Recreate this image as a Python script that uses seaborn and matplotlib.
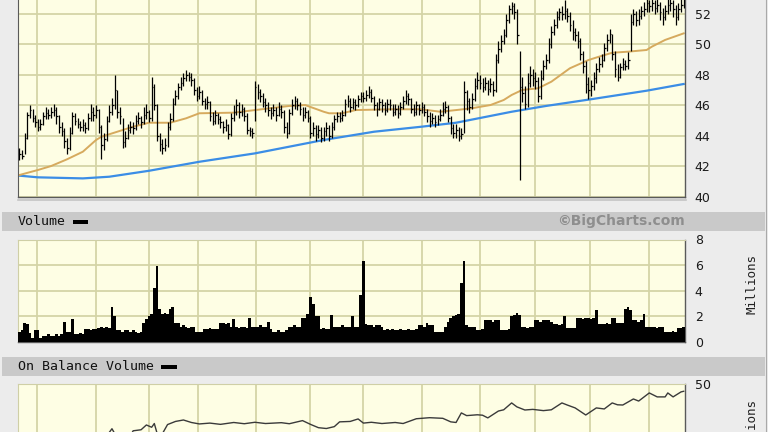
import numpy as np
import matplotlib
matplotlib.use("Agg")
import matplotlib.pyplot as plt
import seaborn as sns
from matplotlib.patches import Rectangle
from matplotlib.lines import Line2D

# ---------------- data ----------------
close = [
    42.8, 42.7, 43.9, 45.4, 45.7, 45.2, 44.9, 44.6, 44.8, 45.3,
    45.5, 45.4, 45.6, 45.7, 45.3, 44.6, 44.3, 43.7, 43.2, 44.2,
    45.3, 45.0, 44.8, 44.6, 44.7, 44.5, 45.2, 45.6, 45.4, 45.7,
    44.6, 43.4, 43.8, 45.0, 45.6, 46.0, 47.0, 45.6, 45.3, 43.6,
    43.9, 44.4, 44.6, 44.5, 45.0, 45.2, 44.9, 45.4, 45.6, 45.2,
    47.2, 46.0, 44.0, 43.5, 43.2, 43.4, 44.6, 45.1, 46.1, 46.6,
    47.2, 47.5, 47.8, 48.0, 47.9, 47.7, 47.0, 46.6, 46.9, 46.3,
    46.1, 46.2, 45.3, 45.0, 45.4, 45.1, 44.9, 44.6, 44.7, 44.1,
    45.2, 45.6, 46.0, 45.6, 45.8, 45.3, 44.4, 44.3, 44.2, 47.2,
    46.9, 46.6, 46.2, 46.0, 45.7, 45.5, 45.7, 45.4, 45.8, 45.6,
    44.6, 44.2, 45.5, 46.0, 46.3, 46.0, 45.8, 45.4, 45.6, 45.2,
    44.2, 44.5, 44.1, 44.4, 43.9, 44.3, 44.5, 44.0, 44.6, 45.1,
    45.3, 45.2, 45.4, 46.1, 46.3, 45.9, 46.2, 46.0, 46.4, 46.6,
    46.5, 46.7, 46.9, 46.5, 46.0, 45.8, 46.2, 46.0, 45.7, 46.1,
    46.0, 45.6, 45.8, 45.5, 45.9, 46.3, 46.6, 46.4, 45.8, 45.6,
    46.0, 45.7, 45.9, 45.6, 45.3, 45.0, 45.2, 44.9, 45.1, 45.4,
    45.8, 45.9, 45.2, 44.5, 44.2, 44.4, 44.0, 44.1, 46.9, 46.3,
    45.9, 46.4, 47.3, 47.7, 47.5, 47.2, 47.5, 47.1, 47.4, 47.0,
    49.0, 49.7, 50.2, 50.6, 51.6, 52.3, 52.5, 52.1, 50.6, 47.2,
    46.8, 46.1, 47.5, 48.0, 47.8, 47.6, 46.6, 47.8, 48.6, 49.0,
    50.0, 50.8, 51.3, 51.8, 52.1, 52.0, 52.2, 51.9, 51.3, 50.8,
    50.6, 50.2, 49.4, 48.6, 47.4, 47.0, 47.3, 47.8, 48.4, 48.7,
    49.0, 49.8, 50.3, 50.7, 49.4, 48.4, 47.9, 48.5, 48.7, 48.6,
    49.0, 51.5, 52.0, 51.6, 51.9, 52.2, 52.3, 52.7, 52.5, 52.7,
    52.4, 52.6, 52.1, 51.8, 52.2, 52.6, 52.7, 52.3, 51.8, 52.3, 52.6, 52.9,
]
high = [
    43.2, 43.1, 44.2, 45.6, 46.0, 45.8, 45.4, 45.1, 45.1, 45.6,
    45.9, 45.8, 45.9, 46.1, 45.9, 45.4, 44.9, 44.5, 43.9, 44.6,
    45.6, 45.5, 45.2, 45.0, 45.1, 44.9, 45.5, 46.1, 45.9, 46.0,
    45.8, 44.7, 44.2, 45.3, 46.0, 46.5, 48.0, 47.0, 45.9, 45.2,
    44.3, 44.8, 45.0, 44.9, 45.4, 45.6, 45.3, 45.9, 46.1, 45.7,
    47.9, 47.4, 46.1, 44.2, 43.8, 43.9, 44.9, 45.5, 46.5, 47.0,
    47.5, 47.9, 48.1, 48.3, 48.2, 48.1, 47.8, 47.2, 47.3, 47.0,
    46.5, 46.6, 46.3, 45.6, 45.7, 45.5, 45.3, 45.0, 45.1, 44.8,
    45.5, 46.0, 46.4, 46.2, 46.1, 45.9, 45.5, 44.6, 44.5, 47.6,
    47.4, 47.1, 46.8, 46.5, 46.2, 45.9, 46.1, 45.9, 46.2, 46.0,
    45.7, 44.9, 45.8, 46.4, 46.6, 46.5, 46.2, 45.9, 45.9, 45.7,
    45.3, 44.9, 44.7, 44.7, 44.6, 44.6, 44.9, 44.7, 44.9, 45.4,
    45.6, 45.6, 45.7, 46.4, 46.7, 46.5, 46.5, 46.4, 46.7, 46.9,
    46.9, 47.0, 47.3, 47.1, 46.6, 46.2, 46.5, 46.4, 46.2, 46.4,
    46.4, 46.1, 46.1, 46.0, 46.2, 46.6, 47.0, 46.8, 46.5, 46.1,
    46.3, 46.1, 46.2, 46.1, 45.8, 45.6, 45.5, 45.4, 45.4, 45.8,
    46.2, 46.3, 46.0, 45.3, 44.8, 44.8, 44.6, 44.5, 47.6, 47.0,
    46.5, 46.8, 47.8, 48.2, 48.0, 47.8, 47.9, 47.7, 47.8, 47.6,
    49.4, 50.2, 50.6, 51.0, 52.0, 52.6, 52.8, 52.7, 52.3, 49.6,
    47.9, 47.3, 48.1, 48.6, 48.4, 48.2, 47.9, 48.3, 49.0, 49.4,
    50.4, 51.2, 51.7, 52.2, 52.4, 52.5, 52.9, 52.4, 52.1, 51.6,
    51.1, 50.9, 50.4, 49.6, 48.9, 47.9, 47.7, 48.2, 48.8, 49.2,
    49.4, 50.1, 50.7, 51.0, 50.7, 49.6, 48.7, 48.8, 49.1, 49.0,
    49.5, 52.0, 52.3, 52.2, 52.3, 52.5, 52.8, 53.0, 52.9, 53.0,
    52.9, 53.0, 52.8, 52.4, 52.6, 53.0, 53.1, 52.9, 52.6, 52.7, 53.0, 53.2,
]
low = [
    42.4, 42.5, 42.8, 43.8, 45.2, 44.9, 44.6, 44.3, 44.4, 44.7,
    45.1, 45.1, 45.2, 45.3, 44.8, 44.2, 44.0, 43.2, 42.8, 43.1,
    44.1, 44.7, 44.5, 44.3, 44.3, 44.2, 44.4, 45.0, 45.0, 45.2,
    44.2, 42.5, 43.1, 43.7, 44.9, 45.4, 45.8, 45.2, 44.8, 43.2,
    43.3, 43.8, 44.2, 44.1, 44.4, 44.8, 44.5, 44.8, 45.1, 44.9,
    45.0, 45.7, 43.7, 43.0, 42.8, 43.0, 43.3, 44.4, 45.0, 46.0,
    46.4, 47.0, 47.3, 47.6, 47.6, 47.3, 46.7, 46.3, 46.4, 46.0,
    45.8, 45.8, 45.0, 44.7, 44.8, 44.8, 44.5, 44.2, 44.3, 43.8,
    44.0, 45.0, 45.4, 45.2, 45.3, 45.0, 44.1, 44.0, 43.9, 45.0,
    46.4, 46.2, 45.9, 45.6, 45.3, 45.1, 45.3, 45.0, 45.3, 45.2,
    44.2, 43.9, 44.1, 45.4, 45.8, 45.7, 45.4, 45.0, 45.2, 44.9,
    43.9, 44.0, 43.7, 43.9, 43.6, 43.7, 44.0, 43.7, 43.9, 44.4,
    44.9, 44.9, 45.0, 45.3, 45.9, 45.6, 45.8, 45.7, 45.9, 46.2,
    46.2, 46.3, 46.5, 46.2, 45.7, 45.3, 45.7, 45.6, 45.4, 45.6,
    45.7, 45.3, 45.4, 45.2, 45.4, 45.8, 46.1, 46.0, 45.5, 45.3,
    45.4, 45.4, 45.5, 45.3, 44.9, 44.6, 44.8, 44.6, 44.7, 45.0,
    45.3, 45.5, 44.9, 44.1, 43.9, 43.9, 43.7, 43.8, 44.2, 45.7,
    45.5, 45.8, 46.3, 47.1, 47.1, 46.9, 47.0, 46.7, 46.9, 46.6,
    46.9, 48.8, 49.5, 50.0, 50.5, 51.4, 52.0, 51.7, 50.0, 41.1,
    46.2, 45.8, 45.9, 47.2, 47.3, 47.1, 46.2, 46.4, 47.7, 48.4,
    48.8, 49.8, 50.6, 51.1, 51.6, 51.6, 51.7, 51.5, 50.9, 50.3,
    50.2, 49.8, 49.0, 48.1, 46.8, 46.4, 46.6, 47.0, 47.5, 48.2,
    48.5, 48.9, 49.6, 50.1, 49.0, 47.9, 47.6, 47.8, 48.3, 48.3,
    48.4, 49.6, 51.3, 51.2, 51.3, 51.7, 51.9, 52.1, 52.1, 52.2,
    52.0, 52.1, 51.6, 51.3, 51.6, 52.0, 52.2, 51.8, 51.3, 51.6, 52.1, 52.4,
]
volume = [  # millions of shares
    0.8, 0.9, 1.5, 1.4, 0.7, 0.3, 0.9, 0.9, 0.3, 0.5,
    0.5, 0.6, 0.5, 0.5, 0.6, 0.5, 0.6, 1.6, 0.8, 0.8,
    1.8, 0.6, 0.6, 0.7, 0.6, 1.0, 1.0, 0.9, 1.0, 1.0,
    1.1, 1.2, 1.1, 1.2, 1.1, 2.75, 2.0, 0.9, 0.9, 0.8,
    0.9, 0.9, 0.8, 0.9, 0.8, 0.7, 0.8, 1.5, 1.8, 2.0,
    2.2, 4.2, 5.9, 2.6, 2.2, 2.3, 2.2, 2.6, 2.7, 1.5,
    1.5, 1.2, 1.3, 1.2, 1.1, 1.2, 1.2, 0.8, 0.8, 0.8,
    1.0, 1.0, 1.1, 1.0, 1.0, 1.0, 1.5, 1.5, 1.4, 1.5,
    1.2, 1.8, 1.15, 1.1, 1.2, 1.15, 1.1, 1.9, 1.2, 1.2,
    1.2, 1.3, 1.2, 1.2, 1.6, 1.0, 0.8, 0.8, 0.9, 0.8,
    0.8, 0.9, 1.2, 1.2, 1.3, 1.2, 1.2, 1.9, 1.9, 2.2,
    3.5, 3.0, 2.0, 2.0, 1.05, 1.1, 1.0, 1.05, 2.1, 1.2,
    1.2, 1.2, 1.3, 1.2, 1.2, 1.2, 2.0, 1.2, 1.2, 3.7,
    6.3, 1.4, 1.3, 1.3, 1.2, 1.3, 1.3, 1.2, 0.95, 1.0,
    0.9, 1.0, 0.95, 0.9, 1.0, 0.95, 0.9, 1.0, 0.95, 0.9,
    1.0, 1.3, 1.3, 1.2, 1.5, 1.3, 1.3, 0.8, 0.8, 0.8,
    0.8, 1.2, 1.6, 1.9, 2.0, 2.1, 2.2, 4.6, 6.3, 1.3,
    1.2, 1.2, 1.2, 0.95, 0.95, 1.0, 1.7, 1.7, 1.7, 1.6,
    1.7, 1.7, 0.95, 0.9, 0.95, 1.0, 2.0, 2.1, 2.3, 2.1,
    1.2, 1.2, 1.1, 1.2, 1.2, 1.7, 1.7, 1.6, 1.7, 1.7,
    1.7, 1.6, 1.4, 1.4, 1.3, 1.4, 2.0, 1.1, 1.1, 1.1,
    1.1, 1.9, 1.9, 1.8, 1.9, 1.9, 1.8, 1.9, 2.5, 1.4,
    1.4, 1.4, 1.5, 1.4, 1.9, 1.9, 1.5, 1.5, 1.5, 2.6,
    2.75, 2.5, 1.7, 1.7, 1.6, 1.7, 2.2, 1.2, 1.2, 1.2,
    1.2, 1.1, 1.2, 1.2, 0.8, 0.8, 0.8, 0.85, 0.8, 1.1, 1.1, 1.2,
]
ma50_idx = [0, 7, 12, 18, 24, 29, 31, 37, 43, 49, 57, 63, 68, 81, 89, 102, 108, 115, 117, 122,
            127, 140, 152, 159, 165, 171, 178, 183, 186, 190, 196, 201, 208, 215, 219, 224, 230,
            237, 239, 244, 251]
ma50_val = [41.44, 41.77, 42.03, 42.47, 42.97, 43.74, 43.95, 44.28, 44.61, 44.87, 44.87, 45.16,
            45.49, 45.53, 45.70, 45.97, 46.03, 45.59, 45.49, 45.49, 45.70, 45.75, 45.75, 45.59,
            45.70, 45.82, 46.03, 46.36, 46.69, 47.02, 47.13, 47.56, 48.44, 48.98, 49.20, 49.46,
            49.53, 49.64, 49.86, 50.30, 50.73]
ma200_idx = [0, 7, 24, 34, 49, 68, 89, 115, 134, 152, 165, 186, 199, 216, 237, 251]
ma200_val = [41.40, 41.29, 41.22, 41.33, 41.72, 42.31, 42.86, 43.74, 44.28, 44.61, 44.87,
             45.59, 45.97, 46.41, 46.97, 47.41]
obv_idx = [0, 15, 30, 33, 35, 37, 41, 43, 46, 48, 50, 51, 52, 54, 56, 59, 62, 65, 68, 72,
           76, 81, 85, 89, 93, 99, 102, 107, 110, 113, 116, 119, 121, 125, 128, 130, 133, 137,
           142, 145, 150, 155, 160, 163, 165, 167, 169, 173, 175, 177, 181, 183, 186, 188, 191,
           194, 198, 201, 205, 207, 210, 214, 218, 221, 224, 226, 228, 232, 234, 238, 241, 244,
           245, 247, 250, 251]
obv_val = [12, 16, 22, 25, 28.5, 24, 23, 27.5, 28.0, 30.3, 29.2, 31.0, 26.5, 26.0, 30.5, 32.0,
           32.7, 31.5, 30.8, 31.2, 30.6, 31.5, 30.9, 31.6, 31.0, 31.4, 30.9, 32.4, 30.6, 29.0,
           28.6, 29.5, 31.8, 32.0, 33.2, 31.2, 31.6, 31.0, 31.5, 31.0, 33.3, 33.8, 33.5, 31.8,
           31.5, 36.1, 34.8, 35.2, 35.0, 33.7, 37.0, 37.6, 40.9, 39.0, 37.5, 37.8, 37.2, 37.6,
           40.9, 39.9, 38.5, 35.1, 38.5, 38.0, 40.9, 40.0, 39.9, 42.8, 41.8, 45.7, 43.8, 43.8,
           45.7, 43.8, 46.2, 46.5]
month_idx = [6.5, 29, 49, 67.5, 89.5, 110, 130, 152, 174, 195, 215.5, 238]
price_ticks = [40, 42, 44, 46, 48, 50, 52]
volume_ticks = [0, 2, 4, 6, 8]
obv_ticks = [50]

# ---------------- layout ----------------
W, H = 768, 432
BG = "#ececec"
fig = plt.figure(figsize=(W / 100, H / 100), dpi=100, facecolor=BG)


def rect(x0, x1, ytop, ybot):
    return [x0 / W, 1 - ybot / H, (x1 - x0) / W, (ybot - ytop) / H]


n = len(close)
x = np.arange(n)


def style(ax, ylim, ticks):
    ax.set_facecolor("#fefee4")
    ax.set_xlim(-0.5, n - 0.5)
    ax.set_ylim(*ylim)
    ax.set_xticks(month_idx)
    ax.set_yticks(ticks)
    ax.set_yticklabels([str(t) for t in ticks])
    ax.yaxis.tick_right()
    ax.tick_params(axis="both", length=0, labelsize=9, pad=7, labelcolor="#1a1a1a")
    ax.tick_params(axis="x", labelbottom=False)
    ax.grid(True, color="#d4d4a6", lw=1.3)
    ax.set_axisbelow(True)
    ax.set_xlabel("")
    ax.set_ylabel("")
    for s in ["left", "top"]:
        ax.spines[s].set_color("#cfcfa6")
    for s in ["right", "bottom"]:
        ax.spines[s].set_color("#5a5a5a")
        ax.spines[s].set_linewidth(1.0)


# price panel (top extends above the image); a gridline at 54 sits above the visible part
ax1 = fig.add_axes(rect(18, 685, 197 - 14 * 15.25, 197))
sns.lineplot(x=ma200_idx, y=ma200_val, ax=ax1, color="#3b8de6", lw=1.6, zorder=2)
sns.lineplot(x=ma50_idx, y=ma50_val, ax=ax1, color="#d6aa5e", lw=1.4, zorder=2)
ax1.vlines(x, low, high, color="black", lw=0.9, zorder=3)
ax1.hlines(close, x, x + 0.6, color="black", lw=0.9, zorder=3)
style(ax1, (40, 54), price_ticks)
ax1.spines["left"].set_color("#5a5a5a")

# volume panel
ax2 = fig.add_axes(rect(18, 685, 239.5, 342))
ax2.bar(x, volume, width=1.05, color="black", linewidth=0, zorder=3)
style(ax2, (0, 8), volume_ticks)

# on balance volume panel (bottom extends below the image)
ax3 = fig.add_axes(rect(18, 685, 384, 488))
sns.lineplot(x=obv_idx, y=obv_val, ax=ax3, color="#3a3a3a", lw=1.0, zorder=3)
style(ax3, (0, 50), obv_ticks)

# ---------------- decorations ----------------
def fy(py):
    return 1 - py / H


for ytop, ybot in [(212, 231), (357, 376)]:
    fig.add_artist(Rectangle((2 / W, fy(ybot)), 763 / W, (ybot - ytop) / H,
                             transform=fig.transFigure, color="#c9c9c9", lw=0, zorder=0))
fig.add_artist(Line2D([765.5 / W, 765.5 / W], [0, 1], transform=fig.transFigure,
                      color="#a9a9a9", lw=0.8))
fig.add_artist(Line2D([18 / W, 686 / W], [fy(199.5), fy(199.5)], transform=fig.transFigure,
                      color="#c4c4c4", lw=1.2))

mono = "DejaVu Sans Mono"
fig.text(18 / W, fy(221.5), "Volume", family=mono, size=9.5, va="center", ha="left",
         color="#111111")
fig.add_artist(Rectangle((73 / W, fy(223.5)), 15 / W, 4 / H, transform=fig.transFigure,
                         color="black", lw=0))
fig.text(685 / W, fy(221.5), "\u00a9BigCharts.com", weight="bold", size=10, color="#8e8e8e",
         ha="right", va="center")
fig.text(18 / W, fy(366.5), "On Balance Volume", family=mono, size=9.5, va="center",
         ha="left", color="#111111")
fig.add_artist(Rectangle((161 / W, fy(368.5)), 16 / W, 4 / H, transform=fig.transFigure,
                         color="black", lw=0))
fig.text(752 / W, fy(284), "Millions", family=mono, size=9, rotation=90, ha="center",
         va="center", color="#222222")
# the second "Millions" runs off the bottom edge, exactly as in the reference
fig.text(752 / W, fy(429), "Millions", family=mono, size=9, rotation=90, ha="center",
         va="center", color="#222222")

fig.savefig("out.png", dpi=100, facecolor=BG)
